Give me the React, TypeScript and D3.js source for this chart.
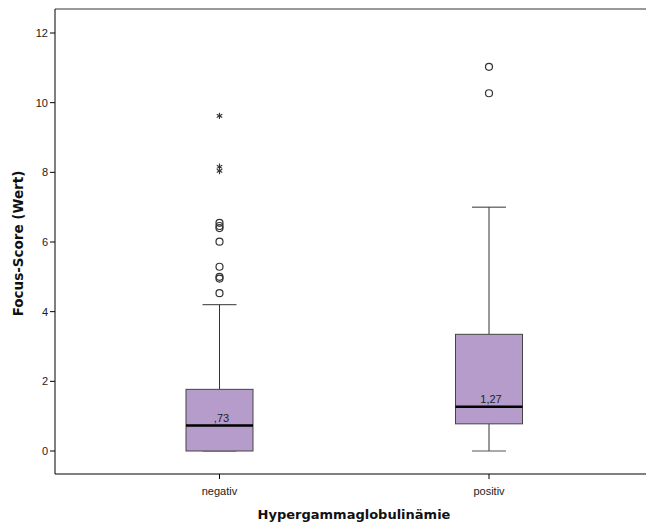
import React from "react";
import * as d3 from "d3";

const categories = ["negativ", "positiv"];
const q1 = [0, 0.78];
const medians = [0.73, 1.27];
const q3 = [1.77, 3.35];
const whiskerLow = [0, 0];
const whiskerHigh = [4.2, 7.0];
const medianLabels = [",73", "1,27"];
const circleOutliers = [
  [6.55, 6.46, 6.4, 6.01, 5.29, 5.0, 4.95, 4.53],
  [11.03, 10.27],
];
const starOutliers = [[9.62, 8.16, 8.04], []];
const yTicks = [0, 2, 4, 6, 8, 10, 12];
const yLabel = "Focus-Score (Wert)";
const xLabel = "Hypergammaglobulinämie";

const W = 646;
const H = 524;
const left = 55;
const top = 9;
const bottom = 474;
const right = 646;

export default function App() {
  const y = d3.scaleLinear().domain([0, 12]).range([451, 33]);
  const x = d3.scalePoint<string>().domain(categories).range([219.5, 489]);
  const boxW = 67;
  const capW = 34;
  const font = "'Liberation Sans', Arial, sans-serif";
  const labelFont = "'DejaVu Sans', Verdana, sans-serif";
  const star = d3.symbol().type(d3.symbolAsterisk).size(28)() as string;

  return (
    <svg
      width={W}
      height={H}
      style={{ position: "absolute", left: 0, top: 0, background: "#fff" }}
      fontFamily={font}
    >
      <line x1={left} y1={top} x2={right} y2={top} stroke="#999" strokeWidth={2} />
      <line x1={left} y1={top} x2={left} y2={bottom} stroke="#000" strokeWidth={1} />
      <line x1={left} y1={bottom} x2={right} y2={bottom} stroke="#000" strokeWidth={1} />
      {yTicks.map((t) => (
        <g key={t}>
          <line x1={left - 5} x2={left} y1={y(t)} y2={y(t)} stroke="#000" />
          <text x={left - 7} y={y(t)} dy="0.35em" textAnchor="end" fontSize={11} fill="#222">
            {t}
          </text>
        </g>
      ))}
      {categories.map((c) => (
        <g key={c}>
          <line x1={x(c)!} x2={x(c)!} y1={bottom} y2={bottom + 5} stroke="#000" />
          <text x={x(c)!} y={bottom + 21} textAnchor="middle" fontSize={11} fill="#222">
            {c}
          </text>
        </g>
      ))}
      <text
        transform={`translate(23,243.5) rotate(-90)`}
        textAnchor="middle"
        fontSize={13.5}
        fontWeight="bold"
        fontFamily={labelFont}
        fill="#111"
      >
        {yLabel}
      </text>
      <text x={354} y={518.5} textAnchor="middle" fontSize={13} fontWeight="bold" fontFamily={labelFont} fill="#111">
        {xLabel}
      </text>
      {categories.map((c, i) => {
        const cx = x(c)!;
        return (
          <g key={c}>
            <line x1={cx} x2={cx} y1={y(q3[i])} y2={y(whiskerHigh[i])} stroke="#333" />
            <line x1={cx} x2={cx} y1={y(q1[i])} y2={y(whiskerLow[i])} stroke="#333" />
            <line x1={cx - capW / 2} x2={cx + capW / 2} y1={y(whiskerHigh[i])} y2={y(whiskerHigh[i])} stroke="#333" />
            <line x1={cx - capW / 2} x2={cx + capW / 2} y1={y(whiskerLow[i])} y2={y(whiskerLow[i])} stroke="#555" />
            <rect
              x={cx - boxW / 2}
              y={y(q3[i])}
              width={boxW}
              height={y(q1[i]) - y(q3[i])}
              fill="#b59ccb"
              stroke="#444"
              strokeWidth={1}
            />
            <line x1={cx - boxW / 2} x2={cx + boxW / 2} y1={y(medians[i])} y2={y(medians[i])} stroke="#000" strokeWidth={2.5} />
            <text x={cx + 2} y={y(medians[i]) - 4} textAnchor="middle" fontSize={11} fill="#222">
              {medianLabels[i]}
            </text>
            {circleOutliers[i].map((v, k) => (
              <circle key={k} cx={cx} cy={y(v)} r={3.5} fill="none" stroke="#333" strokeWidth={1.2} />
            ))}
            {starOutliers[i].map((v, k) => (
              <path key={k} d={star} transform={`translate(${cx},${y(v)})`} fill="none" stroke="#333" strokeWidth={1.1} />
            ))}
          </g>
        );
      })}
    </svg>
  );
}
